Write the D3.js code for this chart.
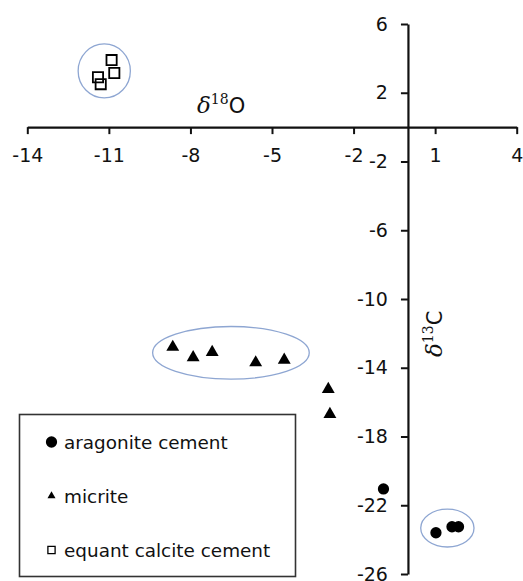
<!DOCTYPE html>
<html lang="en">
<head>
<meta charset="UTF-8">
<title>d13C vs d18O</title>
<style>
  body { margin: 0; background: #fff; }
  svg { display: block; }
  .tick text { font-family: "DejaVu Sans", Verdana, sans-serif; font-size: 19px; fill: #111; }
</style>
</head>
<body>
<svg width="523" height="581"></svg>
<script src="https://cdn.jsdelivr.net/npm/d3@7/dist/d3.min.js"></script>
<script>
// values
const aragonite = [[-0.9, -21.05], [1.03, -23.6], [1.62, -23.25], [1.86, -23.25]];
const micrite = [[-8.65, -12.8], [-7.9, -13.4], [-7.2, -13.1], [-5.6, -13.7], [-4.55, -13.55], [-2.93, -15.25], [-2.87, -16.7]];
const equant = [[-10.9, 3.9], [-10.8, 3.15], [-11.4, 2.9], [-11.3, 2.5]];
const xTicks = [-14, -11, -8, -5, -2, 1, 4];
const yTicks = [6, 2, -2, -6, -10, -14, -18, -22, -26];
// hand drawn groupings: [cx, cy, rx, ry] in data units
const groups = [[-11.17, 3.27, 0.96, 1.57], [-6.51, -13.13, 2.88, 1.53], [1.45, -23.33, 0.98, 1.1]];
const legendItems = ["aragonite cement", "micrite", "equant calcite cement"];

const svg = d3.select("svg");
const x = d3.scaleLinear().domain([-14, 4]).range([27.3, 516.7]);
const y = d3.scaleLinear().domain([6, -26]).range([24, 574]);

// group outlines
svg.append("g").selectAll("ellipse")
  .data(groups)
  .enter().append("ellipse")
  .attr("cx", d => x(d[0]))
  .attr("cy", d => y(d[1]))
  .attr("rx", d => x(d[2]) - x(0))
  .attr("ry", d => y(0) - y(d[3]))
  .attr("fill", "none")
  .attr("stroke", "#8ea6d2")
  .attr("stroke-width", 1.3);

// axes through origin
const xAxis = svg.append("g")
  .attr("transform", `translate(0,${y(0)})`)
  .call(d3.axisBottom(x).tickValues(xTicks).tickSize(7).tickSizeOuter(0).tickPadding(14).tickFormat(d3.format("d")));
const yAxis = svg.append("g")
  .attr("transform", `translate(${x(0)},0)`)
  .call(d3.axisLeft(y).tickValues(yTicks).tickSize(7).tickSizeOuter(0).tickPadding(13).tickFormat(d3.format("d")));
[xAxis, yAxis].forEach(a => {
  a.select(".domain").attr("stroke", "#111").attr("stroke-width", 2.2);
  a.selectAll(".tick line").attr("stroke", "#111").attr("stroke-width", 2);
  a.selectAll(".tick text").text(d => d < 0 ? "-" + Math.abs(d) : d);
});

// axis titles
const t1 = svg.append("text").attr("x", 197).attr("y", 113)
  .style("font-size", "21px").attr("fill", "#111");
t1.append("tspan").attr("font-family", "'DejaVu Serif', serif").attr("font-style", "italic").attr("font-size", "23px").text("δ");
t1.append("tspan").attr("font-family", "'DejaVu Serif', serif").attr("font-size", "14px").attr("dy", -9).text("18");
t1.append("tspan").attr("font-family", "'DejaVu Sans', Verdana, sans-serif").attr("dy", 9).text("O");

const t2 = svg.append("text").attr("transform", "translate(442,357) rotate(-90)")
  .style("font-size", "21px").attr("fill", "#111");
t2.append("tspan").attr("font-family", "'DejaVu Serif', serif").attr("font-style", "italic").attr("font-size", "23px").text("δ");
t2.append("tspan").attr("font-family", "'DejaVu Serif', serif").attr("font-size", "14px").attr("dy", -9).text("13");
t2.append("tspan").attr("font-family", "'DejaVu Sans', Verdana, sans-serif").attr("dy", 9).text("C");

// points
const circleSym = d3.symbol().type(d3.symbolCircle).size(100);
const triSym = d3.symbol().type(d3.symbolTriangle).size(72);
const sqSym = d3.symbol().type(d3.symbolSquare).size(104);

svg.append("g").selectAll("path")
  .data(aragonite).enter().append("path")
  .attr("d", circleSym)
  .attr("transform", d => `translate(${x(d[0])},${y(d[1])})`)
  .attr("fill", "#000");

svg.append("g").selectAll("path")
  .data(micrite).enter().append("path")
  .attr("d", triSym)
  .attr("transform", d => `translate(${x(d[0])},${y(d[1])})`)
  .attr("fill", "#000");

svg.append("g").selectAll("path")
  .data(equant).enter().append("path")
  .attr("d", sqSym)
  .attr("transform", d => `translate(${x(d[0])},${y(d[1])})`)
  .attr("fill", "none")
  .attr("stroke", "#000")
  .attr("stroke-width", 1.8);

// legend
const lg = svg.append("g");
lg.append("rect").attr("x", 19.5).attr("y", 414.5).attr("width", 276).attr("height", 162)
  .attr("fill", "#fff").attr("stroke", "#333").attr("stroke-width", 1.6);
const legendSyms = [
  { d: d3.symbol().type(d3.symbolCircle).size(100)(), fill: "#000", stroke: "none" },
  { d: d3.symbol().type(d3.symbolTriangle).size(28)(), fill: "#000", stroke: "none" },
  { d: d3.symbol().type(d3.symbolSquare).size(52)(), fill: "#fff", stroke: "#000" }
];
const rows = lg.selectAll("g.row")
  .data(legendItems).enter().append("g")
  .attr("class", "row")
  .attr("transform", (d, i) => `translate(0,${442 + i * 54})`);
rows.append("path")
  .attr("d", (d, i) => legendSyms[i].d)
  .attr("transform", "translate(51.5,0)")
  .attr("fill", (d, i) => legendSyms[i].fill)
  .attr("stroke", (d, i) => legendSyms[i].stroke)
  .attr("stroke-width", 1.3);
rows.append("text")
  .attr("x", 64).attr("y", 6.5)
  .attr("font-family", "'DejaVu Sans', Verdana, sans-serif")
  .attr("font-size", "18.4px")
  .attr("fill", "#111")
  .text(d => d);
</script>
</body>
</html>
